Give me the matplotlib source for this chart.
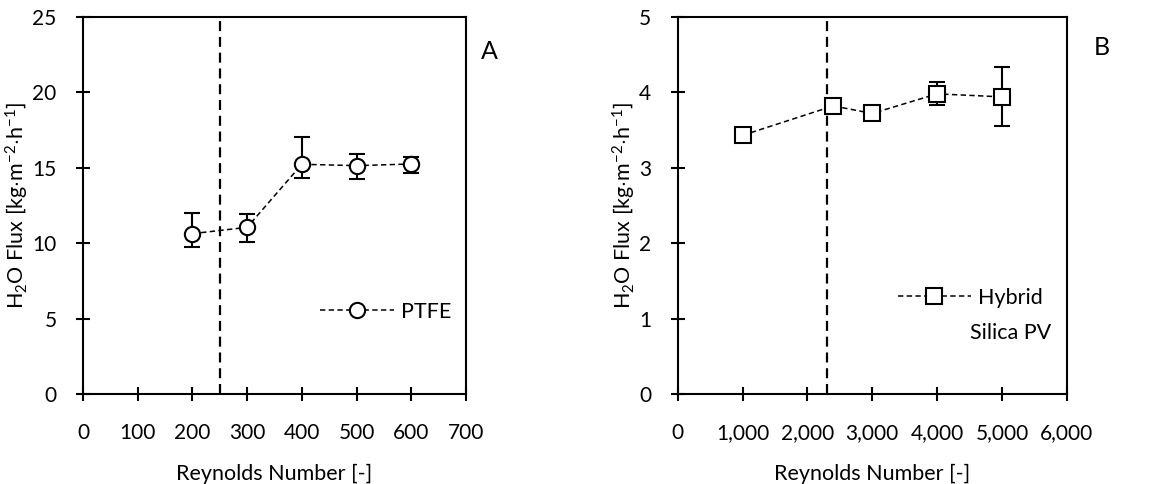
import matplotlib
matplotlib.use('Agg')
import matplotlib.pyplot as plt
from matplotlib.lines import Line2D

plt.rcParams['font.family'] = ['Lato', 'DejaVu Sans']
plt.rcParams['mathtext.fontset'] = 'custom'
plt.rcParams['mathtext.rm'] = 'Lato'
plt.rcParams['mathtext.it'] = 'Lato:italic'

# PTFE membrane
re_a = [200, 300, 400, 500, 600]
flux_a = [10.63, 11.05, 15.23, 15.14, 15.25]
err_a_lo = [0.88, 1.0, 0.9, 0.9, 0.57]
err_a_hi = [1.4, 0.9, 1.8, 0.8, 0.45]
crit_a = 250

# Hybrid silica PV membrane
re_b = [1000, 2400, 3000, 4000, 5000]
flux_b = [3.43, 3.82, 3.72, 3.98, 3.94]
err_b_lo = [0.0, 0.0, 0.0, 0.15, 0.38]
err_b_hi = [0.0, 0.0, 0.0, 0.16, 0.39]
crit_b = 2300

ylabel = 'H$_2$O Flux [kg$\\cdot$m$^{-2}$$\\cdot$h$^{-1}$]'
xlabel = 'Reynolds Number [-]'

fig = plt.figure(figsize=(11.71, 4.84), dpi=100)
axA = fig.add_axes([0.0709, 0.186, 0.327, 0.779])
axB = fig.add_axes([0.5787, 0.186, 0.3323, 0.779])

line_kw = dict(color='black', lw=1.1, ls=(0, (3.5, 2.2)), mfc='white', mec='black', mew=1.5)


def style(ax):
    for s in ax.spines.values():
        s.set_linewidth(1.5)
    ax.tick_params(direction='inout', length=10, width=1.5, labelsize=15)
    ax.tick_params(axis='x', pad=16)
    ax.tick_params(axis='y', pad=14)
    ax.set_xlabel(xlabel, fontsize=15.5, labelpad=15)
    ax.set_ylabel(ylabel, fontsize=15.5, labelpad=1)


# panel A
axA.axvline(crit_a, color='black', lw=1.6, ls=(0, (4.5, 2.6)))
axA.errorbar(re_a, flux_a, yerr=[err_a_lo, err_a_hi], fmt='none', ecolor='black',
             elinewidth=1.5, capsize=6, capthick=1.5)
axA.plot(re_a, flux_a, marker='o', ms=11, **line_kw)
axA.set_xlim(0, 700)
axA.set_ylim(0, 25)
axA.set_xticks(range(0, 701, 100))
axA.set_yticks(range(0, 26, 5))
style(axA)
hA = Line2D([], [], marker='o', ms=11, **line_kw)
axA.legend([hA], ['PTFE'], loc='center left', bbox_to_anchor=(0.62, 0.218),
           frameon=False, fontsize=15.5, handlelength=3.4, handletextpad=0.35,
           borderaxespad=0, borderpad=0)
fig.text(0.4176, 0.8926, 'A', fontsize=18, ha='center', va='center')

# panel B
axB.axvline(crit_b, color='black', lw=1.6, ls=(0, (4.5, 2.6)))
axB.errorbar(re_b, flux_b, yerr=[err_b_lo, err_b_hi], fmt='none', ecolor='black',
             elinewidth=1.5, capsize=6, capthick=1.5)
axB.plot(re_b, flux_b, marker='s', ms=11, **line_kw)
axB.set_xlim(0, 6000)
axB.set_ylim(0, 5)
axB.set_xticks(range(0, 6001, 1000))
axB.set_xticklabels(['0'] + [f'{v:,}' for v in range(1000, 6001, 1000)])
axB.set_yticks(range(0, 6))
style(axB)
hB = Line2D([], [], marker='s', ms=11, **line_kw)
axB.legend([hB], ['Hybrid'], loc='center left', bbox_to_anchor=(0.565, 0.255),
           frameon=False, fontsize=15.5, handlelength=3.4, handletextpad=0.35,
           borderaxespad=0, borderpad=0)
axB.text(0.75, 0.162, 'Silica PV', transform=axB.transAxes, fontsize=15.5,
         ha='left', va='center')
fig.text(0.941, 0.901, 'B', fontsize=18, ha='center', va='center')

fig.savefig('out.png', dpi=100)
